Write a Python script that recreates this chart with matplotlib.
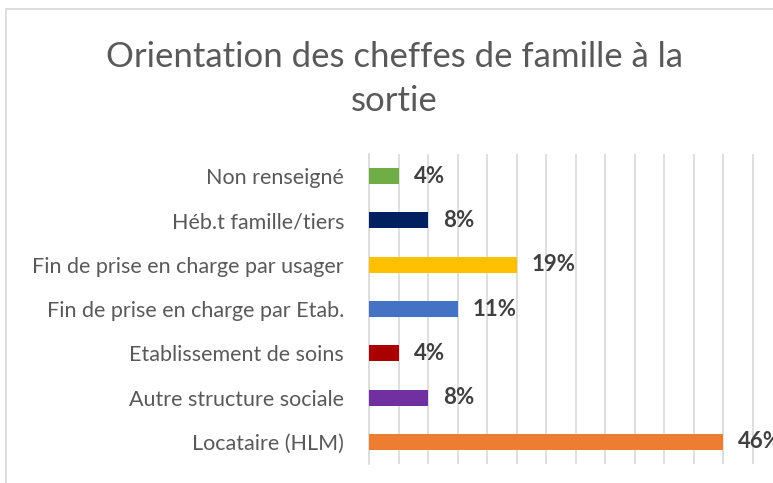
import matplotlib
matplotlib.use('Agg')
import matplotlib.pyplot as plt
from matplotlib.patches import Rectangle

# données (de haut en bas)
categories = ['Non renseigné', 'Héb.t famille/tiers', 'Fin de prise en charge par usager',
              'Fin de prise en charge par Etab.', 'Etablissement de soins',
              'Autre structure sociale', 'Locataire (HLM)']
effectifs = [1, 2, 5, 3, 1, 2, 12]
etiquettes = ['4%', '8%', '19%', '11%', '4%', '8%', '46%']
couleurs = ['#70AD47', '#002060', '#FFC000', '#4472C4', '#AA0000', '#7030A0', '#ED7D31']

W, H = 773, 483
fig = plt.figure(figsize=(W / 100, H / 100), dpi=100)
plt.rcParams['font.family'] = ['Lato', 'DejaVu Sans']

# cadre de la zone graphique
fig.patches.append(Rectangle((6 / W, -0.1), 1.2, 1 - 9 / H + 0.1, transform=fig.transFigure,
                             fill=False, edgecolor='#D9D9D9', linewidth=1.2))

x0, unite = 369, 29.5
xmax = 14
y_haut, y_bas = 154, 464
ax = fig.add_axes([x0 / W, 1 - y_bas / H, xmax * unite / W, (y_bas - y_haut) / H])

pos = range(len(categories))
ax.barh(pos, effectifs, height=0.36, color=couleurs, zorder=3)
for i, (v, t) in enumerate(zip(effectifs, etiquettes)):
    ax.text(v + 0.52, i, t, va='center', ha='left', fontsize=16, fontweight='bold',
            color='#404040', zorder=4, clip_on=False)

ax.set_xlim(0, xmax)
ax.set_ylim(len(categories) - 0.5, -0.5)
ax.set_xticks(range(0, xmax + 1))
ax.xaxis.grid(True, color='#D9D9D9', linewidth=1.2, zorder=0)
ax.tick_params(axis='x', length=0, labelbottom=False)
ax.set_yticks(list(pos))
ax.set_yticklabels(categories, fontsize=15.5, color='#595959')
ax.tick_params(axis='y', length=0, pad=18)
for s in ['top', 'right', 'bottom']:
    ax.spines[s].set_visible(False)
ax.spines['left'].set_color('#D9D9D9')
ax.spines['left'].set_linewidth(1.2)

fig.text(394 / W, 1 - 57 / H, 'Orientation des cheffes de famille à la',
         ha='center', va='center', fontsize=25, color='#595959')
fig.text(394 / W, 1 - 101 / H, 'sortie',
         ha='center', va='center', fontsize=25, color='#595959')

fig.savefig('out.png', dpi=100)
